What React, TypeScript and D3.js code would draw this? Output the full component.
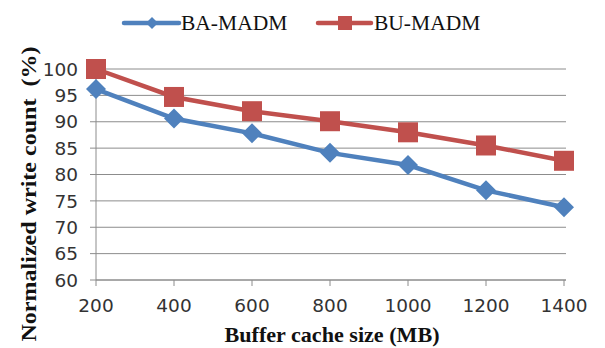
import React from "react";
import * as d3 from "d3";

const sizes = [200, 400, 600, 800, 1000, 1200, 1400];
const baMadm = [96.2, 90.6, 87.8, 84.1, 81.8, 77.0, 73.8];
const buMadm = [100.0, 94.7, 92.0, 90.1, 88.0, 85.5, 82.6];
const yTicks = [60, 65, 70, 75, 80, 85, 90, 95, 100];
const seriesNames = ["BA-MADM", "BU-MADM"];

const W = 605;
const H = 348;
const BLUE = "#4F81BD";
const RED = "#C0504D";
const GRID = "#8c8c8c";
const SERIF = "Liberation Serif";
const SANS = "DejaVu Sans";

export default function App() {
  const x = d3.scaleLinear().domain([200, 1400]).range([96, 564]);
  const y = d3.scaleLinear().domain([60, 100]).range([280, 69]);
  const line = d3
    .line<number>()
    .x((_, i) => x(sizes[i]))
    .y((d) => y(d));

  const diamond = (cx: number, cy: number, r: number) =>
    `M${cx},${cy - r}L${cx + r},${cy}L${cx},${cy + r}L${cx - r},${cy}Z`;

  return (
    <svg width={W} height={H} style={{ position: "absolute", left: 0, top: 0 }}>
      <rect width={W} height={H} fill="#fff" />
      {yTicks.map((t) => (
        <g key={t}>
          <line x1={x(200)} x2={566} y1={y(t)} y2={y(t)} stroke={GRID} strokeWidth={1} />
          <line x1={90} x2={x(200)} y1={y(t)} y2={y(t)} stroke={GRID} strokeWidth={1} />
          <text x={78} y={y(t) + 6.7} textAnchor="end" fontFamily={SANS} fontSize={18.5} fill="#333">
            {t}
          </text>
        </g>
      ))}
      <line x1={x(200)} x2={x(200)} y1={y(100)} y2={y(60)} stroke={GRID} strokeWidth={1} />
      <line x1={x(200)} x2={566} y1={y(60)} y2={y(60)} stroke={GRID} strokeWidth={1} />
      {sizes.map((s) => (
        <g key={s}>
          <line x1={x(s)} x2={x(s)} y1={y(60)} y2={y(60) + 6} stroke={GRID} strokeWidth={1} />
          <text x={x(s)} y={312} textAnchor="middle" fontFamily={SANS} fontSize={18.5} fill="#333">
            {s}
          </text>
        </g>
      ))}

      <path d={line(buMadm) || ""} fill="none" stroke={RED} strokeWidth={4.5} />
      {buMadm.map((v, i) => (
        <rect key={i} x={x(sizes[i]) - 10} y={y(v) - 10} width={20} height={20} fill={RED} />
      ))}
      <path d={line(baMadm) || ""} fill="none" stroke={BLUE} strokeWidth={4.5} />
      {baMadm.map((v, i) => (
        <path key={i} d={diamond(x(sizes[i]), y(v), 10)} fill={BLUE} />
      ))}

      <line x1={124} x2={179} y1={23} y2={23} stroke={BLUE} strokeWidth={4.5} strokeLinecap="round" />
      <path d={diamond(152, 23, 6)} fill={BLUE} />
      <text x={181} y={30} fontFamily={SERIF} fontSize={21.5} fill="#111">
        {seriesNames[0]}
      </text>
      <line x1={318} x2={371} y1={23} y2={23} stroke={RED} strokeWidth={4.5} strokeLinecap="round" />
      <rect x={338} y={16} width={14} height={14} fill={RED} />
      <text x={374} y={30} fontFamily={SERIF} fontSize={21.5} fill="#111">
        {seriesNames[1]}
      </text>

      <text
        x={332}
        y={342}
        textAnchor="middle"
        fontFamily={SERIF}
        fontWeight="bold"
        fontSize={21.5}
        fill="#111"
        textLength={215}
        lengthAdjust="spacingAndGlyphs"
      >
        Buffer cache size (MB)
      </text>
      <text
        transform="translate(36,194) rotate(-90)"
        textAnchor="middle"
        fontFamily={SERIF}
        fontWeight="bold"
        fontSize={21.5}
        fill="#111"
        textLength={295}
        lengthAdjust="spacingAndGlyphs"
        xmlSpace="preserve"
      >
        {"Normalized write count  (%)"}
      </text>
    </svg>
  );
}
